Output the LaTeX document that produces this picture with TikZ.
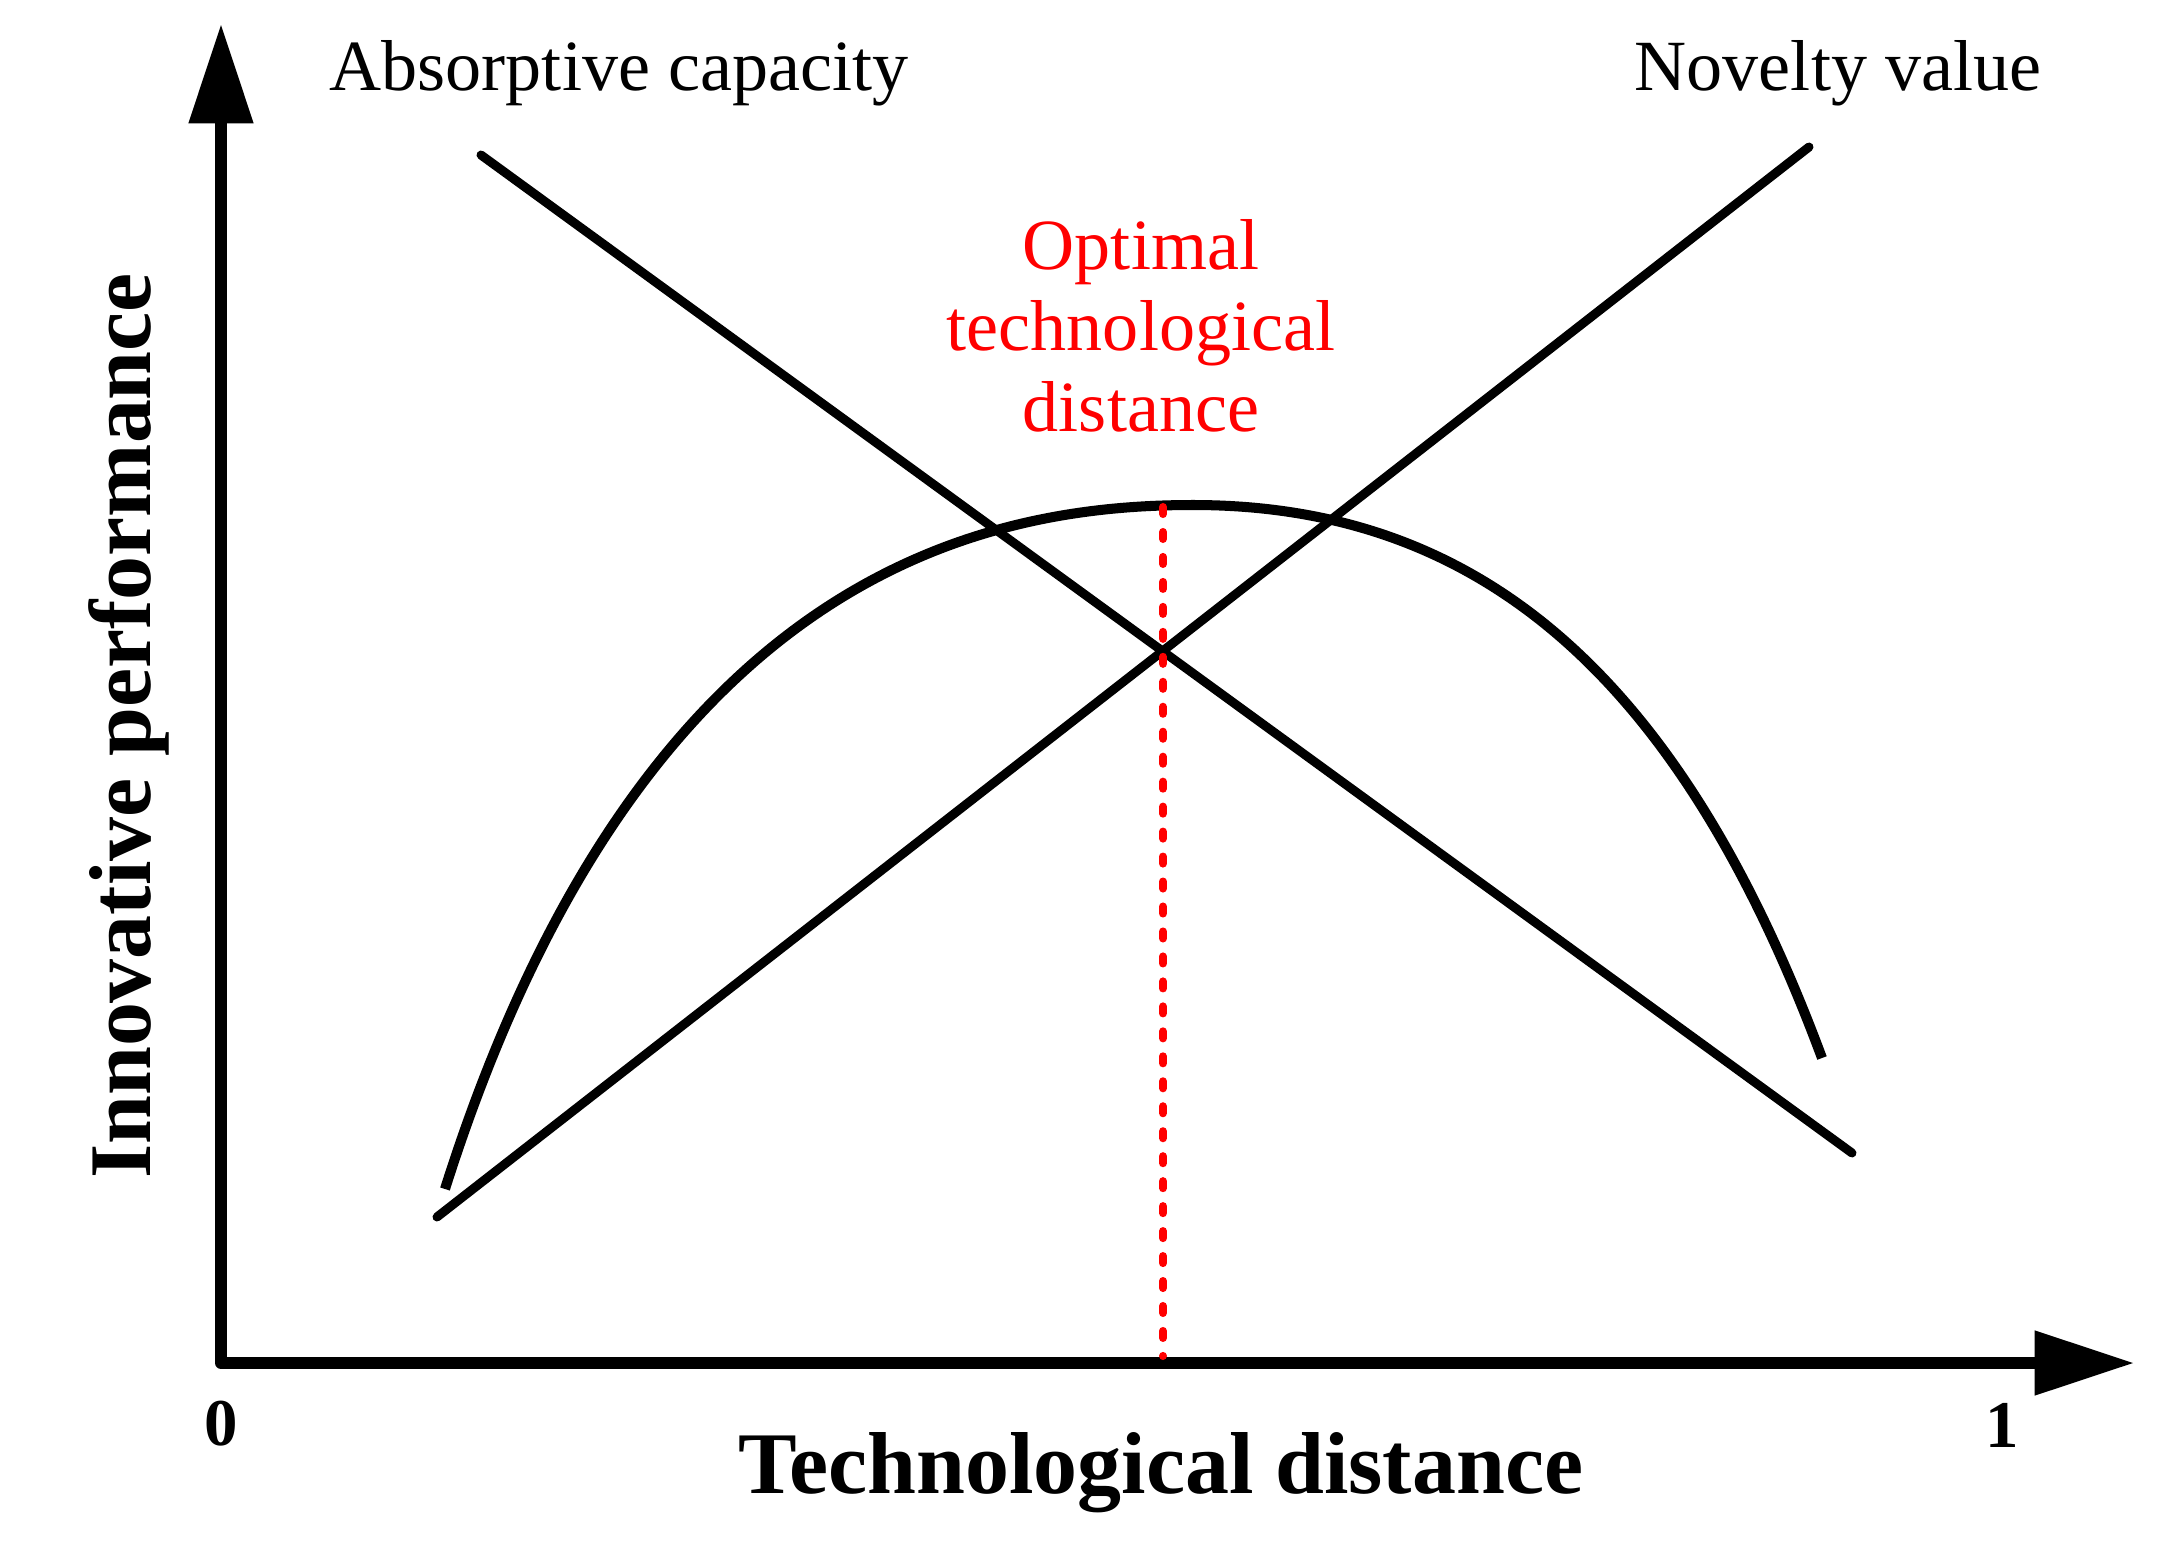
\documentclass[tikz,border=0pt]{standalone}
\usepackage{fontspec}
\setmainfont{Liberation Serif}
\usetikzlibrary{arrows.meta}
\begin{document}
\begin{tikzpicture}[x=0.01cm,y=-0.01cm,
  axisline/.style={line width=3.4pt, line join=round,
    {Triangle[length=28pt,width=18.6pt,line width=0pt]}-{Triangle[length=28pt,width=18.6pt,line width=0pt]}},
  trendline/.style={line width=2.56pt, line cap=round},
  perfcurve/.style={line width=2.85pt, line cap=butt},
  optline/.style={red, line width=2.28pt, line cap=round, dash pattern=on 2pt off 5.1pt},
  curvelabel/.style={inner sep=0pt, font=\fontsize{20.5pt}{23pt}\selectfont},
  redlabel/.style={inner sep=0pt, red, align=center, font=\fontsize{20.5pt}{23pt}\selectfont},
  axislabel/.style={inner sep=0pt, font=\fontsize{25pt}{28pt}\selectfont\bfseries},
  ticklabel/.style={inner sep=0pt, font=\fontsize{19pt}{22pt}\selectfont\bfseries}]
\useasboundingbox (0,0) rectangle (2168,1542);

% axes
\coordinate (ytip) at (221,25);
\coordinate (O) at (221,1363);
\coordinate (xtip) at (2133,1363);
\draw[axisline] (ytip) -- (O) -- (xtip);

% straight lines
\coordinate (abs1) at (481,155);
\coordinate (abs2) at (1852,1153);
\coordinate (nov1) at (437,1217);
\coordinate (nov2) at (1809,147);
\draw[trendline] (abs1) -- (abs2);
\draw[trendline] (nov1) -- (nov2);

% performance curve
\coordinate (cstart) at (445,1189);
\coordinate (ctop) at (1193,505);
\coordinate (cend) at (1822,1058);
\draw[perfcurve] (cstart) .. controls (640,575) and (980,505) .. (ctop)
                          .. controls (1480,505) and (1680,676) .. (cend);

% optimal distance marker
\coordinate (peak) at (1163,507);
\coordinate (foot) at (1163,1356);
\draw[optline] (peak) -- (foot);

% labels
\node[curvelabel, anchor=base] (abslab) at (619,90) {Absorptive capacity};
\node[curvelabel, anchor=base] (novlab) at (1838,90) {Novelty value};
\node[redlabel, anchor=north] (optlab) at (1141,219) {Optimal\\technological\\distance};
\node[axislabel, anchor=base] (xlab) at (1161,1493) {Technological distance};
\node[axislabel, anchor=base, rotate=90] (ylab) at (150,726) {Innovative performance};
\node[ticklabel] (zero) at (221,1424) {0};
\node[ticklabel] (one) at (2002,1425) {1};
\end{tikzpicture}
\end{document}
